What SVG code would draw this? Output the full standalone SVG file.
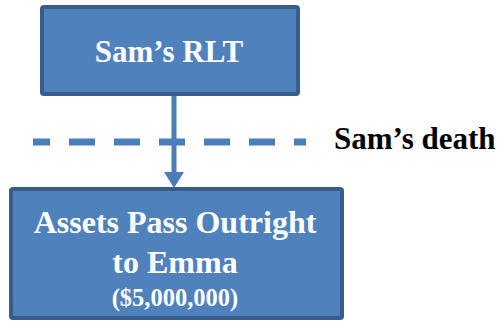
<svg xmlns="http://www.w3.org/2000/svg" width="500" height="322" viewBox="0 0 500 322">
  <style>
    .box { fill: #4f81bd; stroke: #385d8a; stroke-width: 4; }
    .label { fill: #ffffff; font-family: "Liberation Serif", "Times New Roman", serif; font-weight: bold; text-anchor: middle; }
    .edge { stroke: #4a7ebb; fill: none; }
    .head { fill: #4a7ebb; }
  </style>
  <g id="connectors">
    <!-- dashed time line -->
    <line class="edge" x1="33" y1="142" x2="306" y2="142" stroke-width="7" stroke-dasharray="26 19" stroke-dashoffset="9"/>
    <!-- arrow from the trust to the outcome -->
    <path class="edge" d="M174,94 V172" stroke-width="5"/>
    <path class="head" d="M164,172 L184,172 L174,188 Z"/>
  </g>
  <g id="sams-rlt">
    <rect class="box" x="42" y="7" width="256" height="87" rx="2"/>
    <text class="label" x="169" y="62" font-size="31">Sam’s RLT</text>
  </g>
  <g id="assets-to-emma">
    <rect class="box" x="11" y="189" width="331" height="129" rx="2"/>
    <text class="label" x="175" y="233" font-size="32">Assets Pass Outright</text>
    <text class="label" x="175" y="273" font-size="32">to Emma</text>
    <text class="label" x="175" y="306" font-size="24.5">($5,000,000)</text>
  </g>
  <g id="death-label">
    <text x="334" y="149" font-family="'Liberation Serif', 'Times New Roman', serif" font-weight="bold" font-size="31" fill="#000000">Sam’s death</text>
  </g>
</svg>
